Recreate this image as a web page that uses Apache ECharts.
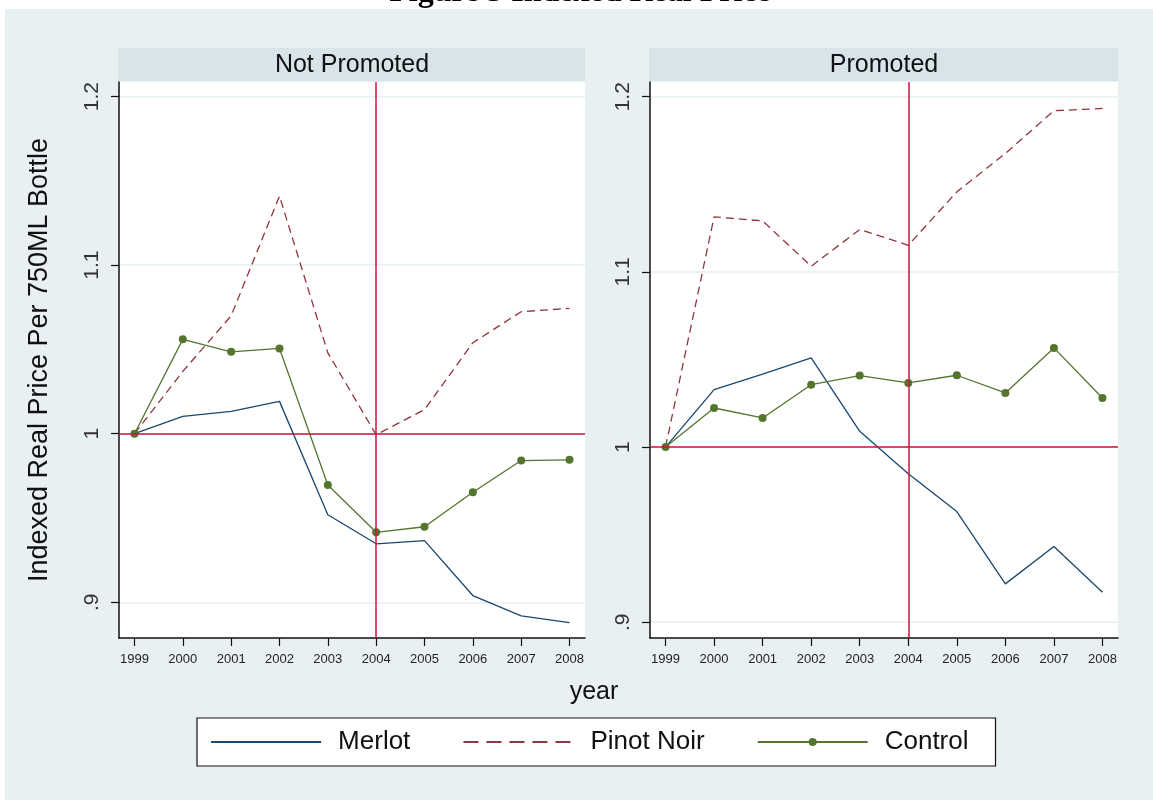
<!DOCTYPE html>
<html>
<head>
<meta charset="utf-8">
<script src="https://cdn.jsdelivr.net/npm/echarts@6/dist/echarts.min.js"></script>
<style>
html,body{margin:0;padding:0;background:#fff;}
#chart{width:1153px;height:800px;}
</style>
</head>
<body>
<div id="chart"></div>
<script>
// ---- data ----
const years = [1999, 2000, 2001, 2002, 2003, 2004, 2005, 2006, 2007, 2008];
const panelTitles = ['Not Promoted', 'Promoted'];
const seriesNames = ['Merlot', 'Pinot Noir', 'Control'];

const merlotNotPromoted  = [1.000, 1.0103, 1.0133, 1.0192, 0.9519, 0.9347, 0.9366, 0.9040, 0.8919, 0.8879];
const pinotNotPromoted   = [1.000, 1.037, 1.070, 1.141, 1.048, 0.9994, 1.0143, 1.054, 1.0724, 1.0744];
const controlNotPromoted = [1.000, 1.056, 1.0486, 1.0506, 0.9696, 0.9415, 0.9448, 0.9653, 0.9841, 0.9845];

const merlotPromoted  = [1.000, 1.0328, 1.0417, 1.0509, 1.009, 0.9848, 0.9632, 0.9219, 0.9432, 0.9171];
const pinotPromoted   = [1.000, 1.1314, 1.1291, 1.1032, 1.1242, 1.1152, 1.1457, 1.1676, 1.192, 1.1933];
const controlPromoted = [1.000, 1.0223, 1.0166, 1.0356, 1.0408, 1.0366, 1.041, 1.0309, 1.0566, 1.028];

const yTickValues = [0.9, 1, 1.1, 1.2];
const yTickLabels = ['.9', '1', '1.1', '1.2'];
const refYear = 2004;
const refValue = 1;

// ---- layout / style ----
const grids = [
  {left: 119, top: 82, width: 466, height: 556},
  {left: 650, top: 82, width: 468, height: 556}
];
const yRanges = [[0.8788, 1.2087], [0.891, 1.2084]];
const xRange = [1998.68, 2008.32];
const colors = {merlot: '#1a476f', pinot: '#90353b', control: '#55752f', ref: '#d3103c'};
const bg = '#e9f0f2';
const strip = '#d8e3ea';
const sans = 'Liberation Sans, Arial, sans-serif';

const panelData = [
  [merlotNotPromoted, pinotNotPromoted, controlNotPromoted],
  [merlotPromoted, pinotPromoted, controlPromoted]
];

function pairs(vals) { return years.map((y, i) => [y, vals[i]]); }

const xAxes = grids.map((g, i) => ({
  type: 'value', gridIndex: i, min: xRange[0], max: xRange[1],
  axisLine: {show: true, lineStyle: {color: '#111', width: 1.5}},
  axisTick: {show: true, length: 8, customValues: years, lineStyle: {color: '#111', width: 1.2}},
  axisLabel: {customValues: years, margin: 15, fontSize: 13, color: '#222', fontFamily: sans,
              formatter: v => String(Math.round(v))},
  splitLine: {show: false}
}));

const yAxes = grids.map((g, i) => ({
  type: 'value', gridIndex: i, min: yRanges[i][0], max: yRanges[i][1],
  axisLine: {show: true, lineStyle: {color: '#111', width: 1.5}},
  axisTick: {show: true, length: 8, customValues: yTickValues, lineStyle: {color: '#111', width: 1.2}},
  axisLabel: {customValues: yTickValues, rotate: 90, margin: 16, fontSize: 21, color: '#333', fontFamily: sans,
              formatter: v => { const k = yTickValues.findIndex(t => Math.abs(t - v) < 1e-6); return k >= 0 ? yTickLabels[k] : ''; }},
  splitLine: {show: true, lineStyle: {color: '#e4eef0', width: 1.5}}
}));

const series = [];
panelData.forEach((arrs, p) => {
  series.push({
    name: seriesNames[0], type: 'line', xAxisIndex: p, yAxisIndex: p, data: pairs(arrs[0]),
    symbol: 'none', lineStyle: {color: colors.merlot, width: 1.3}, itemStyle: {color: colors.merlot},
    z: 3, animation: false,
    markLine: {
      silent: true, symbol: 'none', animation: false, label: {show: false},
      lineStyle: {color: colors.ref, width: 1.5, type: 'solid'},
      data: [{xAxis: refYear}, {yAxis: refValue}]
    }
  });
  series.push({
    name: seriesNames[1], type: 'line', xAxisIndex: p, yAxisIndex: p, data: pairs(arrs[1]),
    symbol: 'none', lineStyle: {color: colors.pinot, width: 1.3, type: [8, 5]}, itemStyle: {color: colors.pinot},
    z: 3, animation: false
  });
  series.push({
    name: seriesNames[2], type: 'line', xAxisIndex: p, yAxisIndex: p, data: pairs(arrs[2]),
    symbol: 'circle', symbolSize: 8, showSymbol: true,
    lineStyle: {color: colors.control, width: 1.3}, itemStyle: {color: colors.control},
    z: 4, animation: false
  });
});

const graphics = [
  {type: 'rect', shape: {x: 0, y: 0, width: 1153, height: 9}, style: {fill: '#fff'}, z: 1},
  {type: 'rect', shape: {x: 0, y: 0, width: 5, height: 800}, style: {fill: '#fff'}, z: 1},
  {type: 'text', x: 580, y: 9, z: 2,
   style: {text: 'Figure 5 Indexed Real Price', font: 'bold 32px "Liberation Serif", "Times New Roman", serif',
           fill: '#000', align: 'center', verticalAlign: 'bottom'}},
  {type: 'text', x: 40, y: 360, rotation: Math.PI / 2, z: 2,
   style: {text: 'Indexed Real Price Per 750ML Bottle', font: '27px ' + sans, fill: '#111',
           align: 'center', verticalAlign: 'middle'}},
  {type: 'text', x: 594, y: 692, z: 2,
   style: {text: 'year', font: '25px ' + sans, fill: '#111', align: 'center', verticalAlign: 'middle'}}
];
grids.forEach((g, i) => {
  graphics.push({type: 'rect', shape: {x: g.left - 1, y: 48, width: g.width + 1, height: 33},
                 style: {fill: strip}, z: 1});
  graphics.push({type: 'text', x: g.left + g.width / 2, y: 65, z: 2,
                 style: {text: panelTitles[i], font: '25px ' + sans, fill: '#111',
                         align: 'center', verticalAlign: 'middle'}});
});

const chart = echarts.init(document.getElementById('chart'), null, {renderer: 'canvas'});
chart.setOption({
  backgroundColor: bg,
  animation: false,
  grid: grids.map(g => ({left: g.left, top: g.top, width: g.width, height: g.height,
                         show: true, backgroundColor: '#fff', borderWidth: 0, containLabel: false})),
  xAxis: xAxes,
  yAxis: yAxes,
  legend: {
    data: [
      {name: seriesNames[0], itemStyle: {opacity: 0}},
      {name: seriesNames[1], itemStyle: {opacity: 0}, lineStyle: {type: [15, 8]}},
      {name: seriesNames[2]}
    ],
    left: 197, top: 718, orient: 'horizontal',
    backgroundColor: '#fff', borderColor: '#111', borderWidth: 1.2, borderRadius: 0,
    padding: [11, 27, 11, 13], itemWidth: 110, itemHeight: 10, itemGap: 52,
    lineStyle: {width: 2.2},
    textStyle: {fontSize: 26, color: '#111', fontFamily: sans, padding: [0, 0, 0, 12]},
    selectedMode: false
  },
  graphic: graphics,
  series: series
});
</script>
</body>
</html>
